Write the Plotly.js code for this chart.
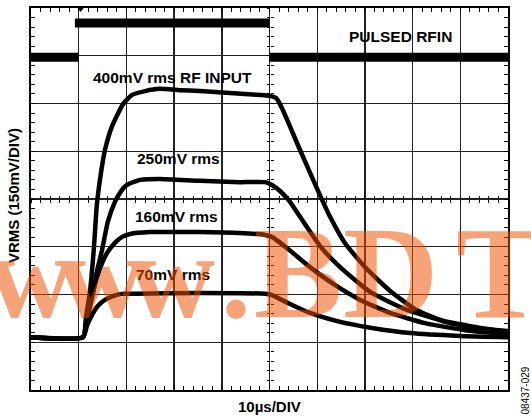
<!DOCTYPE html>
<html><head><meta charset="utf-8">
<script src="https://cdn.plot.ly/plotly-3.0.1.min.js"></script>
<style>html,body{margin:0;padding:0;background:#fff}#chart{width:531px;height:417px}</style>
</head><body><div id="chart"></div>
<script>
// time in microseconds (10 µs/div), level in mV (150 mV/div)
const pulseT = [0, 10, null, 9.2, 50, null, 50, 100];
const pulseV = [1045, 1045, null, 1153, 1153, null, 1045, 1045];
const trigT = [10.4];
const trigV = [1200];

const t400 = [0,10.9,11.5,12.4,13.2,13.8,14.7,15.5,17.0,19.3,21.2,23.9,27.0,31.2,35.4,41.7,48.0,50.1,51.4,52.6,56.4,60.2,62.7,65.8,70.2,75.3,80.5,86.8,93.1,100];
const v400 = [166,166,226,314,449,581,685,754,829,898,927,939,946,942,939,933,927,924,917,886,754,625,544,462,383,311,254,214,195,185];

const t250 = [0,10.9,12.0,13.0,13.8,14.9,16.1,17.6,18.9,20.1,22.9,27.0,35.4,43.8,49.1,50.5,52.2,54.3,56.4,60.6,64.8,71.1,78.4,85.7,93.1,100];
const v250 = [166,166,236,305,371,440,528,591,625,644,660,663,657,653,653,644,625,591,544,452,386,308,254,220,198,182];

const t160 = [0,10.9,11.7,12.8,13.8,14.9,16.1,17.6,19.1,20.8,24.9,35.4,43.8,49.1,50.5,53.9,58.5,63.7,69.0,75.3,82.6,91.0,100];
const v160 = [166,166,226,295,352,399,434,462,481,490,496,496,493,487,481,443,386,330,283,242,210,188,176];

const t70 = [0,10.9,11.7,12.8,14.0,15.5,17.2,19.1,21.8,35.4,49.1,50.5,54.3,58.5,64.8,71.5,79.5,89.9,100];
const v70 = [166,166,201,236,264,283,295,302,302,305,302,298,270,242,214,195,179,170,166];

const curveLabels = ['400mV rms RF INPUT', '250mV rms', '160mV rms', '70mV rms'];
const pulseLabel = 'PULSED RFIN';
const xTitle = '10µs/DIV';
const yTitle = 'VRMS (150mV/DIV)';
const figId = '08437-029';
const wmParts = ['www', '.', 'B', 'D', 'T'];

const curve = (t, v) => ({x: t, y: v, type: 'scatter', mode: 'lines',
  line: {color: '#000', width: 4.5, shape: 'spline', smoothing: 0.5}, hoverinfo: 'skip'});

const data = [
  {x: pulseT, y: pulseV, type: 'scatter', mode: 'lines', connectgaps: false,
   line: {color: '#000', width: 9}, hoverinfo: 'skip'},
  curve(t400, v400), curve(t250, v250), curve(t160, v160), curve(t70, v70),
  {x: trigT, y: trigV, type: 'scatter', mode: 'markers', cliponaxis: false,
   marker: {symbol: 'triangle-down', size: 8, color: '#000'}, hoverinfo: 'skip'},
  {x: [null], y: [null], xaxis: 'x2', yaxis: 'y2', type: 'scatter', mode: 'lines', hoverinfo: 'skip'},
  {x: [null], y: [null], xaxis: 'x3', yaxis: 'y3', type: 'scatter', mode: 'lines', hoverinfo: 'skip'}
];

const frameAxis = (range, dtick, minorDtick) => ({
  range: range, dtick: dtick, tick0: 0, showgrid: true, gridcolor: '#222', gridwidth: 1.4,
  zeroline: false, showline: true, linecolor: '#000', linewidth: 2, mirror: 'allticks',
  ticks: 'inside', ticklen: 4, tickwidth: 1, tickcolor: '#000', showticklabels: false,
  minor: {dtick: minorDtick, tick0: 0, ticks: 'inside', ticklen: 4, tickwidth: 1, tickcolor: '#000', showgrid: false},
  fixedrange: true
});
const centerAxis = (over, range, dtick, minorDtick, dir) => ({
  overlaying: over, anchor: 'free', position: 0.5, range: range, dtick: dtick, tick0: 0,
  showgrid: false, zeroline: false, showline: false, showticklabels: false,
  ticks: dir, ticklen: 3, tickwidth: 1, tickcolor: '#000',
  minor: {dtick: minorDtick, tick0: 0, ticks: dir, ticklen: 3, tickwidth: 1, tickcolor: '#000', showgrid: false},
  fixedrange: true
});

const L = 31, R = 508, T = 8, B = 390;
const px = x => (x - L) / (R - L);
const py = y => (B - y) / (B - T);
const lab = (text, x, y, size, extra) => Object.assign({
  text: text, xref: 'paper', yref: 'paper', x: px(x), y: py(y),
  xanchor: 'center', yanchor: 'middle', showarrow: false,
  font: {family: 'Liberation Sans, Arial, sans-serif', size: size, color: '#000'}
}, extra || {});

const wmFont = s => ({family: 'Liberation Serif, Times New Roman, serif', size: s, color: 'rgb(240,80,0)'});
const annotations = [
  lab('<b>' + curveLabels[0] + '</b>', 172, 77, 15.5),
  lab('<b>' + curveLabels[1] + '</b>', 178.5, 158.5, 15.5),
  lab('<b>' + curveLabels[2] + '</b>', 176.5, 216.5, 15.5),
  lab('<b>' + curveLabels[3] + '</b>', 172.5, 274, 15.5),
  lab('<b>' + pulseLabel + '</b>', 400, 36.5, 15.5),
  lab('<b>' + xTitle + '</b>', 269, 406, 15),
  lab('<b>' + yTitle + '</b>', 13, 196, 15, {textangle: -90}),
  lab(figId, 524.5, 391, 10, {textangle: -90}),
  {text: '<b><span style="letter-spacing:-16px">' + wmParts[0] + '</span></b>', xref: 'paper', yref: 'paper',
   x: px(101), y: py(276.5), xanchor: 'center', yanchor: 'middle', showarrow: false, font: wmFont(120), opacity: 0.52},
  {text: '<b>' + wmParts[1] + '</b>', xref: 'paper', yref: 'paper', x: px(235.5), y: py(276.5),
   xanchor: 'center', yanchor: 'middle', showarrow: false, font: wmFont(120), opacity: 0.52},
  {text: '<b>' + wmParts[2] + '</b>', xref: 'paper', yref: 'paper', x: px(298), y: py(272.4),
   xanchor: 'center', yanchor: 'middle', showarrow: false, font: wmFont(132), opacity: 0.52},
  {text: '<b>' + wmParts[3] + '</b>', xref: 'paper', yref: 'paper', x: px(390), y: py(272.4),
   xanchor: 'center', yanchor: 'middle', showarrow: false, font: wmFont(132), opacity: 0.52},
  {text: '<b>' + wmParts[4] + '</b>', xref: 'paper', yref: 'paper', x: px(500), y: py(272.4),
   xanchor: 'center', yanchor: 'middle', showarrow: false, font: wmFont(132), opacity: 0.52}
];

const layout = {
  width: 531, height: 417, margin: {l: L, r: 531 - R, t: T, b: 417 - B, pad: 0},
  paper_bgcolor: '#fff', plot_bgcolor: '#fff', showlegend: false,
  xaxis: frameAxis([0, 100], 10, 2),
  yaxis: frameAxis([0, 1200], 150, 30),
  xaxis2: centerAxis('x', [0, 100], 10, 2, 'inside'),
  yaxis2: centerAxis('y', [0, 1200], 150, 30, 'inside'),
  xaxis3: centerAxis('x', [0, 100], 10, 2, 'outside'),
  yaxis3: centerAxis('y', [0, 1200], 150, 30, 'outside'),
  annotations: annotations
};

Plotly.newPlot('chart', data, layout, {staticPlot: true, displayModeBar: false});
</script></body></html>
